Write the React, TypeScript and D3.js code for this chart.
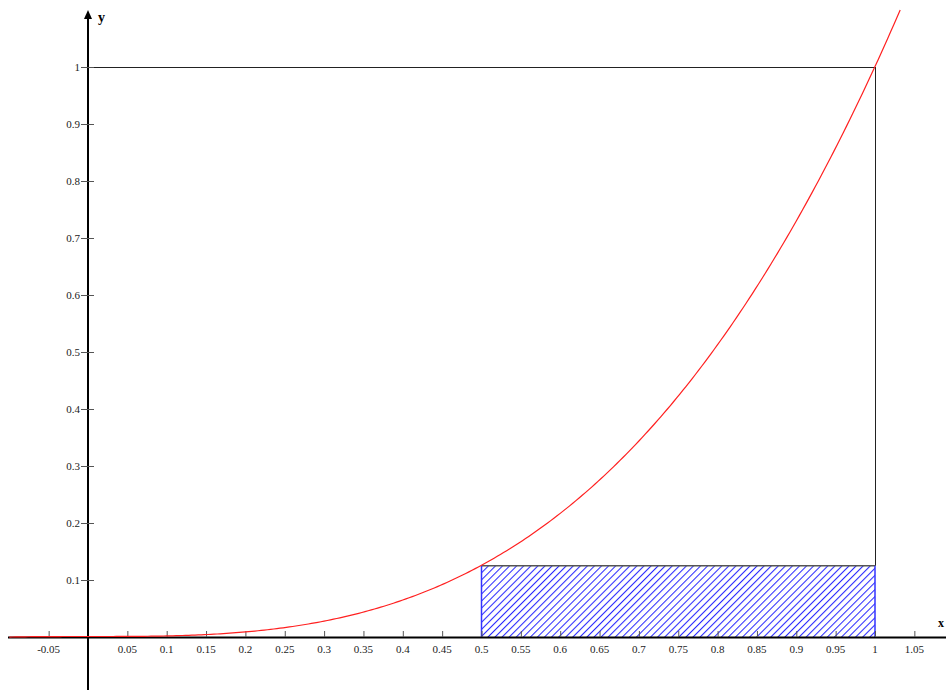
import React from "react";
import * as d3 from "d3";

const width = 946;
const height = 690;

// plotted function and the shaded rectangle
const curveDomain = [-0.1, 1.032];
const rectX = [0.5, 1];
const rectTop = 0.125;

const xTicks = [-0.05, 0.05, 0.1, 0.15, 0.2, 0.25, 0.3, 0.35, 0.4, 0.45, 0.5, 0.55, 0.6, 0.65, 0.7, 0.75, 0.8, 0.85, 0.9, 0.95, 1, 1.05];
const yTicks = [0.1, 0.2, 0.3, 0.4, 0.5, 0.6, 0.7, 0.8, 0.9, 1];

const f = (x: number) => x * x * x;

const x = d3.scaleLinear().domain([0, 1]).range([88, 875]);
const y = d3.scaleLinear().domain([0, 1]).range([637, 67]);

function App() {
  const pts: [number, number][] = d3
    .range(curveDomain[0], curveDomain[1] + 0.0001, 0.004)
    .map((v) => [v, f(v)]);
  const line = d3
    .line<[number, number]>()
    .x((d) => x(d[0]))
    .y((d) => y(d[1]) - 0.5);

  const fmt = (v: number) => String(+v.toFixed(2));

  return (
    <svg width={width} height={height} style={{ position: "absolute", left: 0, top: 0, background: "#fff" }}>
      <defs>
        <pattern id="hatch" patternUnits="userSpaceOnUse" width={5} height={5} patternTransform="rotate(45)">
          <line x1={0.5} y1={0} x2={0.5} y2={5} stroke="#2a2aff" strokeWidth={1.1} />
        </pattern>
      </defs>

      {/* hatched rectangle */}
      <rect
        x={x(rectX[0])}
        y={y(rectTop)}
        width={x(rectX[1]) - x(rectX[0])}
        height={y(0) - y(rectTop)}
        fill="url(#hatch)"
      />
      <line x1={x(rectX[0])} x2={x(rectX[1])} y1={y(rectTop)} y2={y(rectTop)} stroke="#555" strokeWidth={1.3} />
      <line x1={x(rectX[0])} x2={x(rectX[0])} y1={y(rectTop)} y2={y(0)} stroke="#3333ff" strokeWidth={1.5} />
      <line x1={x(rectX[1])} x2={x(rectX[1])} y1={y(rectTop)} y2={y(0)} stroke="#3333ff" strokeWidth={1.5} />

      {/* unit square guide */}
      <line x1={x(0)} x2={x(1)} y1={y(1) + 0.5} y2={y(1) + 0.5} stroke="#222" strokeWidth={1} />
      <line x1={x(1) + 0.5} x2={x(1) + 0.5} y1={y(1)} y2={y(rectTop)} stroke="#222" strokeWidth={1} />

      {/* axes */}
      <line x1={8} x2={946} y1={y(0) + 0.5} y2={y(0) + 0.5} stroke="#000" strokeWidth={2} />
      <line x1={x(0)} x2={x(0)} y1={690} y2={16} stroke="#000" strokeWidth={2} />
      <path d={`M${x(0)},10 L${x(0) - 4},19 L${x(0) + 4},19 Z`} fill="#000" />
      <text x={98} y={22} fontFamily="Liberation Serif, serif" fontSize={14} fontWeight="bold">y</text>
      <text x={938} y={627} fontFamily="Liberation Serif, serif" fontSize={12} fontWeight="bold">x</text>

      {/* x ticks */}
      {xTicks.map((t) => (
        <g key={"x" + t}>
          <line x1={x(t) + 0.5} x2={x(t) + 0.5} y1={y(0) - 6} y2={y(0)} stroke="#555" strokeWidth={1} />
          <text x={x(t)} y={653} textAnchor="middle" fontFamily="Liberation Serif, serif" fontSize={11} fill="#222">
            {fmt(t)}
          </text>
        </g>
      ))}

      {/* y ticks */}
      {yTicks.map((t) => (
        <g key={"y" + t}>
          <line x1={81} x2={94} y1={y(t) + 0.5} y2={y(t) + 0.5} stroke="#555" strokeWidth={1} />
          <text x={80} y={y(t) + 4} textAnchor="end" fontFamily="Liberation Serif, serif" fontSize={11} fill="#222">
            {fmt(t)}
          </text>
        </g>
      ))}

      {/* curve y = x^3 */}
      <path d={line(pts) || ""} fill="none" stroke="#ff2020" strokeWidth={1.2} />
    </svg>
  );
}

export default App;
